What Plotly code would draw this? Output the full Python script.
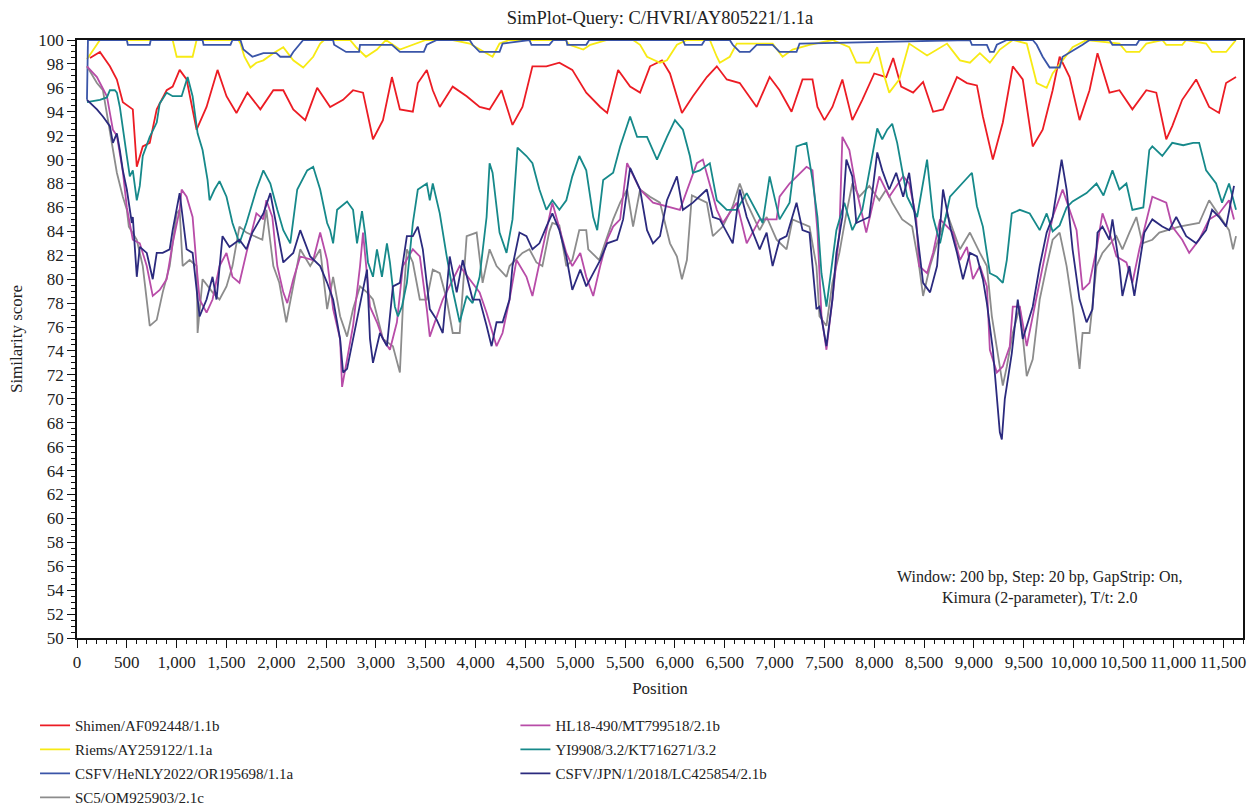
import plotly.graph_objects as go

# ---------------- data ----------------
pos_shimen = [130, 230, 330, 400, 460, 560, 600, 660, 730, 800, 900, 960, 1030, 1100, 1200, 1300, 1410, 1500, 1600, 1710,
              1840, 1970, 2070, 2170, 2290, 2410, 2540, 2670, 2770, 2870, 2970, 3070, 3160, 3240, 3370, 3420, 3510, 3570, 3640, 3770,
              3910, 4040, 4140, 4260, 4370, 4470, 4570, 4710, 4840, 4970, 5110, 5250, 5320, 5430, 5550, 5650, 5750, 5870, 5950, 6070,
              6180, 6320, 6420, 6520, 6650, 6820, 6950, 7050, 7170, 7280, 7380, 7430, 7500, 7580, 7680, 7780, 7880, 8000, 8120, 8190,
              8270, 8390, 8490, 8590, 8690, 8830, 8930, 9030, 9090, 9190, 9290, 9390, 9490, 9590, 9690, 9790, 9860, 9960, 10060, 10160,
              10240, 10360, 10460, 10590, 10730, 10830, 10930, 10990, 11090, 11230, 11360, 11460, 11530, 11630]
sim_shimen = [98.5, 99.0, 97.8, 96.7, 94.8, 94.2, 89.4, 91.1, 91.4, 94.2, 95.8, 96.1, 97.5, 96.7, 92.5, 94.4, 97.5, 95.3, 93.9, 95.6,
              94.2, 95.8, 95.8, 94.2, 93.3, 96.0, 94.4, 95.0, 95.8, 95.6, 91.7, 93.3, 96.9, 94.2, 94.0, 96.4, 97.5, 95.8, 94.4, 96.1,
              95.3, 94.4, 94.2, 95.8, 92.9, 94.4, 97.8, 97.8, 98.1, 97.5, 95.6, 94.4, 93.9, 97.5, 96.1, 95.6, 97.8, 98.3, 97.2, 93.9,
              95.3, 96.9, 97.8, 96.7, 96.4, 94.4, 96.9, 95.8, 94.0, 96.7, 96.7, 94.4, 93.3, 94.4, 96.7, 93.3, 95.0, 97.2, 96.9, 98.5,
              96.1, 95.6, 96.5, 94.0, 94.2, 96.9, 96.4, 96.2, 93.6, 90.0, 93.1, 97.8, 96.7, 91.1, 92.5, 95.8, 98.6, 96.9, 93.3, 95.8,
              98.9, 95.6, 95.8, 94.2, 95.8, 95.6, 91.7, 92.8, 95.0, 96.7, 94.4, 93.9, 96.4, 96.9]

pos_riems = [100, 230, 960, 1000, 1160, 1200, 1620, 1640, 1680, 1740, 1800, 1870, 1970, 2070, 2170, 2270, 2370, 2440, 2480, 2740,
             2800, 2900, 3010, 3100, 3240, 3410, 3500, 3770, 3940, 4170, 4240, 4340, 4900, 4940, 5080, 5150, 5320, 5580, 5650, 5720,
             5850, 5920, 6020, 6120, 6350, 6420, 6450, 6550, 6620, 6980, 7080, 7180, 7350, 7580, 7750, 7820, 7950, 8030, 8100, 8150,
             8250, 8350, 8530, 8730, 8860, 8960, 9060, 9160, 9260, 9390, 9530, 9630, 9730, 9790, 9890, 9990, 10130, 10460, 10530, 10660,
             10730, 10890, 10930, 11090, 11130, 11330, 11390, 11530, 11600, 11630]
sim_riems = [98.4, 100, 100, 98.6, 98.6, 100, 100, 99.7, 98.6, 97.7, 98.1, 98.3, 98.9, 99.4, 98.3, 97.7, 98.6, 99.7, 100, 100,
             99.4, 98.6, 99.2, 100, 99.2, 99.7, 100, 100, 99.7, 98.6, 99.7, 100, 100, 99.6, 99.2, 99.6, 100, 100, 99.6, 98.6,
             98.1, 98.3, 99.6, 100, 100, 98.6, 98.1, 98.6, 99.7, 99.7, 98.6, 99.2, 99.6, 100, 99.4, 98.1, 98.1, 99.4, 97.0, 95.6,
             96.7, 99.7, 98.7, 99.7, 98.3, 98.1, 98.9, 98.1, 99.2, 100, 99.7, 96.4, 96.0, 97.2, 98.3, 99.4, 100, 99.7, 99.0, 99.0,
             99.7, 100, 99.6, 99.6, 100, 99.7, 99.0, 99.0, 99.7, 100]

pos_henly = [100, 110, 500, 510, 730, 740, 1260, 1270, 1540, 1560, 1640, 1670, 1760, 1870, 2000, 2040, 2140, 2170, 2270, 2570,
             2580, 2700, 2830, 2840, 3160, 3240, 3480, 3510, 3610, 3940, 3970, 4040, 4240, 4270, 4540, 4560, 4740, 4780, 4910, 4920,
             5110, 5140, 6080, 6100, 6270, 6300, 6550, 6580, 6650, 6750, 6820, 6980, 7050, 7220, 7250, 8960, 8980, 9130, 9160, 9200,
             9230, 9330, 9590, 9630, 9690, 9760, 9860, 9890, 10090, 10160, 10360, 10390, 10630, 10660, 11630]
sim_henly = [95.0, 100, 100, 99.6, 99.6, 100, 100, 99.6, 99.6, 100, 100, 99.2, 98.6, 98.9, 98.9, 98.6, 98.6, 99.0, 100, 100,
             99.6, 99.0, 99.0, 99.6, 99.6, 99.0, 99.0, 99.6, 100, 100, 99.6, 99.0, 99.0, 99.7, 100, 99.6, 99.6, 100, 100, 99.6,
             99.6, 100, 100, 99.6, 99.6, 100, 100, 99.6, 99.0, 99.0, 99.6, 99.6, 99.0, 99.0, 99.7, 100, 99.6, 99.6, 99.0, 99.0,
             99.6, 100, 100, 99.6, 98.6, 97.7, 97.7, 98.6, 99.6, 100, 100, 99.6, 99.6, 100, 100]

pos_sc5 = [100, 200, 260, 360, 400, 460, 500, 520, 600, 660, 700, 730, 800, 860, 930, 1000, 1030, 1060, 1130, 1200,
           1210, 1260, 1360, 1430, 1500, 1560, 1630, 1700, 1860, 1900, 1970, 2030, 2100, 2170, 2240, 2340, 2440, 2510, 2570, 2640,
           2710, 2770, 2840, 2910, 2970, 3070, 3170, 3240, 3270, 3310, 3370, 3440, 3510, 3570, 3640, 3710, 3770, 3840, 3910, 4010,
           4070, 4140, 4210, 4310, 4340, 4470, 4540, 4610, 4670, 4740, 4770, 4840, 4910, 4970, 5040, 5110, 5130, 5240, 5380, 5450,
           5520, 5580, 5650, 5750, 5850, 5950, 6020, 6070, 6120, 6170, 6320, 6380, 6480, 6580, 6650, 6720, 6850, 6920, 7020, 7120,
           7180, 7350, 7420, 7450, 7520, 7580, 7650, 7720, 7780, 7850, 7950, 8050, 8120, 8180, 8280, 8380, 8450, 8490, 8560, 8630,
           8730, 8860, 8960, 9060, 9130, 9180, 9230, 9290, 9330, 9390, 9460, 9530, 9590, 9660, 9730, 9790, 9860, 9930, 9990, 10060,
           10090, 10160, 10230, 10290, 10430, 10490, 10560, 10630, 10690, 10790, 10860, 11060, 11260, 11360, 11560, 11600, 11630]
sim_sc5 = [97.8, 96.4, 95.8, 90.8, 88.9, 86.9, 85.8, 84.4, 83.3, 81.1, 78.3, 76.1, 76.6, 78.9, 81.1, 85.5, 85.8, 81.1, 81.6, 81.1,
           75.5, 80.0, 78.9, 78.3, 79.4, 81.1, 84.4, 83.9, 83.3, 85.8, 81.1, 79.7, 76.4, 79.4, 82.5, 81.1, 82.5, 77.5, 80.2, 76.9,
           75.2, 77.5, 79.4, 78.9, 78.3, 75.0, 74.4, 72.2, 77.7, 82.5, 81.4, 78.3, 78.3, 80.8, 80.5, 78.3, 75.5, 75.5, 83.6, 83.9,
           79.7, 82.5, 81.1, 80.2, 81.1, 82.2, 82.5, 81.4, 81.1, 84.0, 84.7, 84.5, 81.1, 81.6, 84.1, 84.1, 82.5, 81.6, 85.0, 86.4,
           87.5, 84.4, 87.5, 86.9, 86.4, 83.0, 81.9, 80.0, 81.6, 87.0, 86.4, 83.6, 84.4, 86.1, 88.0, 86.4, 84.1, 85.2, 83.3, 82.5,
           85.0, 84.4, 81.1, 76.9, 76.1, 79.7, 82.2, 85.5, 88.0, 86.9, 87.8, 86.6, 87.5, 86.4, 85.0, 84.4, 81.1, 78.6, 81.1, 83.0,
           85.5, 82.5, 83.9, 82.2, 81.1, 76.9, 74.1, 71.1, 72.7, 75.5, 77.7, 71.9, 73.3, 78.3, 81.1, 83.3, 83.9, 81.1, 77.7, 72.5,
           75.5, 75.5, 81.1, 82.2, 83.6, 82.5, 83.9, 85.2, 83.0, 83.3, 83.9, 84.4, 84.7, 86.6, 84.1, 82.5, 83.6]

pos_hl18 = [100, 200, 300, 360, 400, 460, 500, 560, 630, 700, 760, 830, 900, 960, 1030, 1050, 1100, 1160, 1200, 1230,
            1300, 1360, 1430, 1500, 1560, 1630, 1700, 1800, 1870, 1900, 1960, 2010, 2070, 2110, 2170, 2240, 2370, 2440, 2510, 2570,
            2640, 2660, 2710, 2770, 2840, 2870, 2940, 3010, 3070, 3140, 3210, 3270, 3370, 3440, 3510, 3540, 3670, 3840, 3940, 4040,
            4110, 4210, 4270, 4340, 4410, 4510, 4570, 4710, 4770, 4910, 4970, 5050, 5110, 5180, 5250, 5320, 5380, 5450, 5520, 5650,
            5780, 6050, 6150, 6220, 6280, 6350, 6420, 6480, 6620, 6720, 6850, 7020, 7050, 7150, 7220, 7320, 7380, 7430, 7470, 7520,
            7580, 7650, 7680, 7750, 7820, 7880, 7920, 8050, 8150, 8290, 8350, 8420, 8450, 8530, 8590, 8660, 8790, 8860, 8930, 8990,
            9060, 9130, 9160, 9230, 9290, 9360, 9390, 9460, 9530, 9590, 9660, 9730, 9790, 9890, 10030, 10090, 10160, 10230, 10290, 10360,
            10430, 10530, 10590, 10660, 10730, 10790, 10930, 10990, 11090, 11160, 11260, 11360, 11460, 11560, 11610]
sim_hl18 = [97.8, 96.9, 95.3, 92.5, 92.0, 89.0, 86.0, 83.3, 83.0, 81.1, 78.6, 79.1, 80.0, 83.0, 85.8, 87.5, 86.9, 85.2, 81.1, 78.3,
            77.2, 78.3, 81.1, 82.2, 80.2, 79.7, 82.2, 85.5, 85.0, 86.6, 85.2, 81.1, 78.9, 78.0, 80.0, 81.9, 81.6, 83.9, 81.6, 77.5,
            75.0, 71.0, 73.3, 76.1, 81.1, 83.9, 77.7, 76.4, 75.0, 74.1, 76.4, 81.1, 82.5, 81.9, 77.5, 75.2, 78.3, 81.1, 80.0, 78.9,
            77.2, 74.4, 75.5, 78.3, 81.6, 80.2, 78.6, 83.9, 86.4, 82.2, 81.1, 82.2, 80.2, 78.6, 81.1, 83.3, 84.4, 85.0, 89.7, 87.5,
            86.4, 85.8, 88.0, 89.7, 90.0, 88.0, 85.8, 84.7, 86.4, 83.0, 85.0, 85.0, 86.9, 88.0, 88.6, 89.4, 89.1, 84.0, 77.0, 74.1,
            78.3, 83.9, 91.9, 90.8, 87.5, 85.2, 83.9, 88.6, 86.9, 88.6, 88.0, 85.2, 81.1, 80.5, 82.2, 85.0, 83.9, 81.6, 82.7, 80.0,
            81.1, 79.4, 74.1, 72.2, 72.7, 74.4, 77.7, 77.7, 74.4, 76.9, 79.7, 82.5, 85.2, 87.5, 84.1, 79.1, 79.7, 82.5, 85.5, 83.9,
            81.9, 81.4, 79.7, 82.5, 85.0, 86.9, 86.4, 84.4, 83.3, 82.2, 83.3, 85.0, 85.5, 86.6, 85.0]

pos_yi9908 = [100, 230, 300, 330, 380, 400, 430, 460, 500, 530, 560, 600, 630, 660, 730, 800, 830, 900, 960, 1050,
              1110, 1160, 1210, 1260, 1310, 1330, 1380, 1430, 1500, 1560, 1630, 1700, 1800, 1870, 1940, 2010, 2070, 2140, 2210, 2310,
              2370, 2440, 2510, 2540, 2570, 2610, 2710, 2770, 2810, 2860, 2890, 2920, 2970, 3010, 3060, 3110, 3140, 3190, 3220, 3260,
              3310, 3370, 3420, 3510, 3540, 3570, 3640, 3710, 3770, 3840, 3910, 3970, 4040, 4110, 4140, 4170, 4240, 4310, 4370, 4420,
              4510, 4570, 4640, 4710, 4770, 4840, 4910, 4970, 5040, 5110, 5180, 5220, 5280, 5380, 5450, 5550, 5620, 5720, 5820, 5920,
              6000, 6080, 6150, 6180, 6250, 6350, 6420, 6520, 6620, 6720, 6880, 6950, 7050, 7150, 7220, 7320, 7380, 7430, 7470, 7520,
              7580, 7620, 7700, 7780, 7880, 7980, 8030, 8080, 8130, 8180, 8230, 8280, 8330, 8430, 8490, 8530, 8590, 8660, 8760, 8860,
              8980, 9030, 9090, 9160, 9230, 9290, 9330, 9380, 9460, 9560, 9660, 9730, 9790, 9860, 9930, 9990, 10130, 10230, 10300, 10390,
              10460, 10530, 10590, 10700, 10760, 10790, 10890, 10990, 11100, 11200, 11260, 11330, 11430, 11490, 11560, 11630]
sim_yi9908 = [94.8, 95.0, 95.2, 95.8, 95.8, 95.6, 94.4, 92.5, 90.3, 88.6, 89.1, 86.6, 87.8, 90.3, 91.9, 93.1, 94.7, 95.6, 95.3, 95.3,
              96.9, 95.3, 92.2, 90.8, 88.3, 86.6, 87.5, 88.2, 86.9, 84.7, 83.0, 84.7, 87.5, 89.1, 88.0, 85.8, 84.1, 83.0, 87.5, 89.1,
              89.4, 87.5, 84.7, 84.1, 83.0, 85.8, 86.5, 85.8, 83.0, 85.7, 83.9, 81.4, 80.2, 82.5, 80.2, 83.0, 81.4, 77.7, 76.9, 77.7,
              79.7, 84.7, 87.5, 88.0, 86.6, 88.0, 85.5, 81.9, 79.1, 76.4, 78.6, 78.0, 80.2, 85.2, 89.7, 88.9, 83.9, 82.2, 85.0, 91.0,
              90.3, 89.7, 87.5, 85.8, 86.6, 85.8, 86.6, 88.6, 90.3, 89.1, 85.2, 84.1, 88.3, 88.9, 91.1, 93.6, 91.9, 91.9, 90.0, 91.9,
              93.3, 92.5, 90.3, 88.9, 89.1, 89.7, 86.6, 85.8, 85.8, 87.2, 84.7, 88.6, 85.0, 86.4, 91.1, 91.4, 88.3, 85.2, 80.5, 77.7,
              81.6, 84.1, 86.4, 84.1, 85.8, 90.3, 92.6, 91.7, 92.5, 93.0, 91.4, 89.1, 86.9, 85.2, 88.3, 90.0, 85.2, 83.0, 86.9, 87.8,
              88.9, 86.1, 84.4, 80.5, 80.2, 79.7, 81.6, 85.5, 85.8, 85.5, 84.1, 85.5, 84.0, 84.5, 86.0, 86.5, 87.2, 88.0, 87.0, 89.1,
              87.5, 88.0, 85.8, 86.0, 90.8, 91.1, 90.3, 91.4, 91.2, 91.4, 91.4, 89.1, 88.0, 86.4, 88.0, 85.8]

pos_jpn = [100, 200, 260, 330, 360, 400, 430, 460, 500, 530, 550, 560, 600, 630, 700, 760, 800, 860, 930, 960,
           1030, 1100, 1160, 1230, 1300, 1360, 1400, 1460, 1530, 1630, 1700, 1760, 1870, 1940, 2010, 2070, 2170, 2240, 2340, 2440,
           2510, 2570, 2640, 2670, 2710, 2770, 2840, 2910, 2940, 2970, 3040, 3110, 3170, 3240, 3310, 3370, 3420, 3470, 3540, 3610,
           3670, 3740, 3810, 3870, 3970, 4040, 4110, 4160, 4210, 4270, 4340, 4370, 4440, 4510, 4570, 4640, 4710, 4770, 4840, 4910,
           4970, 5050, 5110, 5180, 5250, 5320, 5420, 5480, 5550, 5650, 5720, 5780, 5850, 5920, 6020, 6080, 6180, 6320, 6380, 6450,
           6580, 6650, 6720, 6850, 6920, 6980, 7050, 7120, 7220, 7280, 7350, 7420, 7450, 7520, 7580, 7620, 7680, 7720, 7780, 7820,
           7950, 8030, 8080, 8150, 8220, 8290, 8350, 8430, 8490, 8560, 8630, 8690, 8760, 8830, 8890, 8960, 9030, 9090, 9130, 9190,
           9260, 9280, 9310, 9380, 9440, 9490, 9590, 9660, 9730, 9790, 9880, 9930, 9990, 10060, 10130, 10190, 10240, 10290, 10360, 10390,
           10460, 10490, 10560, 10610, 10660, 10710, 10790, 10890, 10960, 11030, 11130, 11230, 11330, 11390, 11460, 11530, 11610]
sim_jpn = [95.0, 94.2, 93.6, 92.8, 91.4, 92.2, 90.8, 89.1, 87.5, 85.8, 84.7, 85.2, 80.2, 82.7, 82.2, 80.0, 82.2, 82.2, 82.5, 84.1,
           87.2, 82.5, 82.2, 76.9, 78.3, 80.2, 78.3, 83.6, 82.7, 83.3, 82.5, 83.9, 85.5, 87.2, 84.1, 81.4, 82.2, 84.1, 81.9, 81.1,
           79.7, 78.3, 75.0, 72.2, 72.5, 75.0, 77.7, 80.8, 75.0, 73.0, 75.5, 74.4, 79.4, 79.7, 83.6, 83.6, 84.4, 82.5, 77.5, 76.6,
           75.5, 81.9, 78.9, 81.6, 78.3, 78.3, 76.1, 74.4, 76.4, 76.4, 78.3, 81.1, 83.9, 83.6, 82.5, 83.0, 84.4, 85.5, 84.1, 81.9,
           79.1, 80.8, 79.4, 80.5, 81.6, 83.0, 83.3, 85.0, 89.3, 87.5, 84.1, 83.0, 83.6, 86.6, 88.6, 85.8, 86.4, 87.5, 85.2, 85.0,
           83.0, 87.5, 85.2, 82.5, 83.9, 81.1, 83.3, 83.6, 86.4, 84.1, 83.9, 77.5, 77.7, 74.4, 78.3, 82.2, 85.2, 90.0, 88.6, 84.7,
           85.2, 90.6, 89.1, 87.5, 88.9, 86.9, 88.9, 83.9, 79.7, 78.9, 81.1, 87.5, 84.4, 82.2, 80.0, 82.2, 81.9, 80.0, 78.0, 74.1,
           67.2, 66.6, 70.0, 73.8, 78.3, 75.0, 77.7, 81.1, 83.9, 85.2, 90.0, 87.5, 82.5, 78.3, 76.4, 77.5, 83.9, 84.4, 83.3, 85.0,
           81.1, 78.6, 81.1, 78.6, 81.1, 83.9, 85.0, 84.4, 84.1, 85.2, 83.6, 83.0, 84.1, 85.8, 85.2, 84.4, 87.8]

series_names = ["Shimen/AF092448/1.1b", "Riems/AY259122/1.1a", "CSFV/HeNLY2022/OR195698/1.1a", "SC5/OM925903/2.1c",
                "HL18-490/MT799518/2.1b", "YI9908/3.2/KT716271/3.2", "CSFV/JPN/1/2018/LC425854/2.1b"]
series_pos = [pos_shimen, pos_riems, pos_henly, pos_sc5, pos_hl18, pos_yi9908, pos_jpn]
series_sim = [sim_shimen, sim_riems, sim_henly, sim_sc5, sim_hl18, sim_yi9908, sim_jpn]
series_colors = ["#ec1c24", "#f7ea14", "#3a55a8", "#8c8c8c", "#b84ca8", "#16898a", "#2b2a7e"]
series_legend = ["legend", "legend", "legend", "legend", "legend2", "legend2", "legend2"]

title_text = "SimPlot-Query: C/HVRI/AY805221/1.1a"
note_text = "Window: 200 bp, Step: 20 bp, GapStrip: On,<br>Kimura (2-parameter), T/t: 2.0"

for p, s in zip(series_pos, series_sim):
    assert len(p) == len(s), (len(p), len(s))

FONT = "Liberation Serif"

fig = go.Figure()
for name, p, s, c, lg in zip(series_names, series_pos, series_sim, series_colors, series_legend):
    fig.add_trace(go.Scatter(x=p, y=s, mode="lines", name=name, legend=lg, legendgroup=name,
                             line=dict(color=c, width=1.8)))

axis_common = dict(showline=True, linecolor="#111", linewidth=1.6, mirror=True, ticks="outside",
                   tickcolor="#111", tickwidth=1.2, ticklen=8, showgrid=False, zeroline=False,
                   automargin=False,
                   tickfont=dict(family=FONT, size=17, color="#222"))

fig.update_xaxes(range=[0, 11700], tick0=0, dtick=500, tickformat=",d",
                 minor=dict(dtick=100, ticklen=4, ticks="outside", tickcolor="#111", tickwidth=1),
                 title=dict(text="Position", font=dict(family=FONT, size=17, color="#222"), standoff=11),
                 **axis_common)
fig.update_yaxes(range=[50, 100], tick0=50, dtick=2,
                 minor=dict(dtick=0.5, ticklen=4, ticks="outside", tickcolor="#111", tickwidth=1),
                 title=dict(text="Similarity score", font=dict(family=FONT, size=17, color="#222"), standoff=11),
                 **axis_common)

legend_common = dict(orientation="v", xanchor="left", yanchor="top", y=-0.119,
                     font=dict(family=FONT, size=15, color="#222"), bgcolor="rgba(0,0,0,0)",
                     tracegroupgap=1.5, itemwidth=30)

fig.update_layout(
    width=1249, height=812,
    margin=dict(l=77, r=6, t=40, b=174, autoexpand=False),
    paper_bgcolor="white", plot_bgcolor="white",
    font=dict(family=FONT, size=16, color="#222"),
    title=dict(text=title_text, x=0.5, xref="paper", xanchor="center",
               y=1 - 18 / 812, yref="container", yanchor="middle",
               font=dict(family=FONT, size=18.5, color="#222")),
    legend=dict(x=-0.036, **legend_common),
    legend2=dict(x=0.376, **legend_common),
    showlegend=True,
    annotations=[dict(text=note_text, x=0.826, y=0.085, xref="paper", yref="paper",
                      xanchor="center", yanchor="middle", align="center", showarrow=False,
                      font=dict(family=FONT, size=16, color="#222"))],
)

# remove the browser's default page margin so the figure sits at the page's top-left corner
fig.write_html("out.html", config={"displayModeBar": False},
               post_script="document.body.style.margin='0px';document.body.style.padding='0px';")
